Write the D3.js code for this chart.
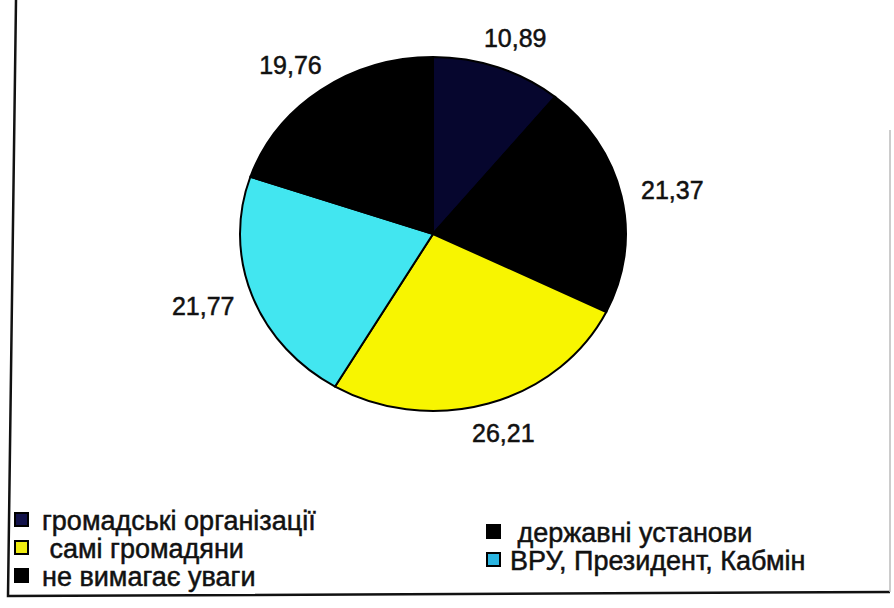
<!DOCTYPE html>
<html>
<head>
<meta charset="utf-8">
<script src="https://cdn.jsdelivr.net/npm/d3@7"></script>
<style>
  body { margin: 0; background: #fff; }
  svg { display: block; }
  text { font-family: "Liberation Sans", Arial, sans-serif; fill: #111; white-space: pre; stroke: #111; stroke-width: 0.5px; }
</style>
</head>
<body>
<svg id="chart"></svg>
<script>
// data
var categories = ["громадські організації", " державні установи", " самі громадяни", "ВРУ, Президент, Кабмін", "не вимагає уваги"]
var values = [10.89, 21.37, 26.21, 21.77, 19.76]
var valueLabels = ["10,89", "21,37", "26,21", "21,77", "19,76"]
var sliceColors = ["#06062e", "#000000", "#f8f500", "#42e6f0", "#000000"]
var swatchColors = ["#12124a", "#000000", "#f0ec10", "#2ab4e0", "#000000"]

var width = 894, height = 608

var svg = d3.select("#chart")
  .attr("width", width)
  .attr("height", height)

// frame of the scanned page (slightly skewed)
svg.append("path")
  .attr("d", d3.line()([[16, 0], [8, 596], [890, 592]]))
  .attr("fill", "none")
  .attr("stroke", "#111")
  .attr("stroke-width", 2.5)
svg.append("line")
  .attr("x1", 890).attr("y1", 130)
  .attr("x2", 890).attr("y2", 592)
  .attr("stroke", "#bbb")
  .attr("stroke-width", 1.5)

// pie
var cx = 433, cy = 234
var rx = 193, ry = 177

var pie = d3.pie().sort(null).value(function(d) { return d })
var data_ready = pie(values)

var arcGenerator = d3.arc()
  .innerRadius(0)
  .outerRadius(rx)

var g = svg.append("g")
  .attr("transform", "translate(" + cx + "," + cy + ") scale(1," + (ry / rx) + ")")

g.selectAll("path.slice")
  .data(data_ready)
  .enter()
  .append("path")
    .attr("class", "slice")
    .attr("d", arcGenerator)
    .attr("fill", function(d, i) { return sliceColors[i] })
    .attr("stroke", "#000")
    .attr("stroke-width", 2)
    .attr("vector-effect", "non-scaling-stroke")

// value labels outside the pie
var labelArc = d3.arc().innerRadius(1).outerRadius(1)
var lrx = 245, lry = 208
svg.selectAll("text.value")
  .data(data_ready)
  .enter()
  .append("text")
    .attr("class", "value")
    .attr("x", function(d) { return cx + labelArc.centroid(d)[0] * lrx })
    .attr("y", function(d) { return cy + labelArc.centroid(d)[1] * lry })
    .attr("dy", "0.36em")
    .attr("text-anchor", "middle")
    .style("font-size", "25px")
    .text(function(d, i) { return valueLabels[i] })

// legend: two columns, filled row by row
var legend = svg.selectAll("g.legend")
  .data(categories)
  .enter()
  .append("g")
    .attr("class", "legend")
    .attr("transform", function(d, i) {
      var col = i % 2, row = Math.floor(i / 2)
      var x = col == 0 ? 14 : 486
      var y = 530 + row * 28 + col * 12
      return "translate(" + x + "," + y + ")"
    })

legend.append("rect")
  .attr("x", 1).attr("y", -17)
  .attr("width", 13).attr("height", 13)
  .attr("fill", function(d, i) { return swatchColors[i] })
  .attr("stroke", "#000")
  .attr("stroke-width", 2)

legend.append("text")
  .attr("x", function(d, i) { return i % 2 == 0 ? 28 : 24 })
  .attr("y", 0)
  .style("font-size", "27px")
  .text(function(d) { return d })
</script>
</body>
</html>
